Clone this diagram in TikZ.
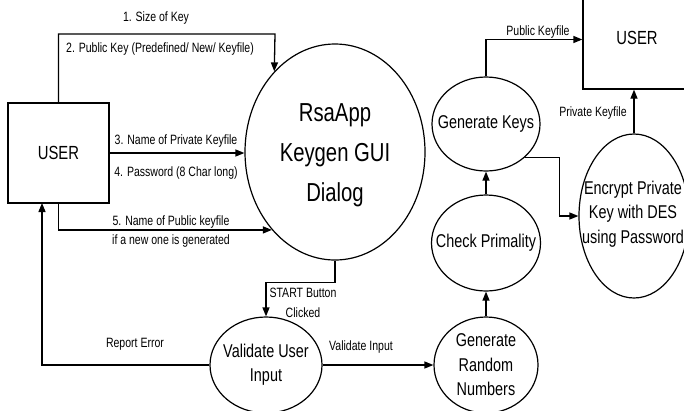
\documentclass[tikz,border=0pt]{standalone}
\usepackage{fontspec}
\setmainfont[FakeStretch=0.78]{Liberation Sans}
\usetikzlibrary{shapes.geometric,arrows.meta}

\tikzset{
  flow/.style={line width=1.3pt, -{Triangle[length=9pt,width=7pt]}},
  plain/.style={line width=1.3pt},
  proc/.style={ellipse, draw, line width=1.2pt, inner sep=0pt},
  ent/.style={rectangle, draw, line width=1.3pt, inner sep=0pt},
  big/.style={font=\fontsize{26}{40}\selectfont, align=center, inner sep=0pt},
  mid/.style={font=\fontsize{18.5}{24.5}\selectfont, align=center, inner sep=0pt},
  small/.style={font=\fontsize{13.5}{16}\selectfont, align=center, inner sep=0pt},
}

\begin{document}
\begin{tikzpicture}[x=1pt,y=-1pt]
\useasboundingbox (0,0) rectangle (684,410);
\clip (0,0) rectangle (684,410);

% external entities
\node[ent, minimum width=101pt, minimum height=100pt] (user1) at (58.5,153) {};
\node[mid, font=\fontsize{19}{24}\selectfont] (user1-t) at (58.5,153) {USER};
\node[ent, minimum width=117pt, minimum height=99pt] (user2) at (641.5,39.5) {};
\node[mid, font=\fontsize{19}{24}\selectfont] (user2-t) at (637,38) {USER};

% processes
\node[proc, minimum width=180pt, minimum height=216pt] (big) at (335,152) {};
\node[big] (big-t) at (335,155) {RsaApp\\Keygen GUI\\Dialog};

\node[proc, minimum width=112pt, minimum height=96pt] (val) at (266,365) {};
\node[mid] (val-t) at (266,364.5) {Validate User\\Input};

\node[proc, minimum width=104pt, minimum height=96pt] (grn) at (486,365) {};
\node[mid] (grn-t) at (486,365) {Generate\\Random\\Numbers};

\node[proc, minimum width=109pt, minimum height=96pt] (cp) at (486,243) {};
\node[mid] (cp-t) at (486,243) {Check Primality};

\node[proc, minimum width=108pt, minimum height=94pt] (gk) at (486,124) {};
\node[mid] (gk-t) at (486,124) {Generate Keys};

\node[proc, minimum width=110pt, minimum height=164pt] (enc) at (634,216) {};
\node[mid] (enc-t) at (633,214) {Encrypt Private\\Key with DES\\using Password};

% data flows
\coordinate (c1) at (275,34);
\draw[flow] (user1.north) |- (c1) -- (big.127);
\draw[flow] (user1.east) -- (user1.east -| big.west);
\draw[flow] (user1.south) |- (big.-129);
\draw[flow] (big.south) -- ++(0,22) -| (val.north);
\coordinate (rerr) at (42,203);
\draw[flow] (val.west) -| (rerr);
\draw[flow] (val.east) -- (grn.west);
\draw[flow] (grn.north) -- (cp.south);
\draw[flow] (cp.north) -- (gk.south);
\draw[flow] (gk.north) |- (user2.west);
\draw[flow] (gk.south east) -| ([xshift=-19pt]enc.west) -- (enc.west);
\draw[flow] (enc.north) -- (enc.north |- user2.south);

% flow labels
\node[small] (l1) at (156,18) {1. Size of Key};
\node[small] (l2) at (160,49) {2. Public Key (Predefined/ New/ Keyfile)};
\node[small] (l3) at (176,141) {3. Name of Private Keyfile};
\node[small] (l4) at (176,173) {4. Password (8 Char long)};
\node[small] (l5) at (171,222) {5. Name of Public keyfile};
\node[small] (l5b) at (171,241) {if a new one is generated};
\node[small] (ls1) at (303,293) {START Button};
\node[small] (ls2) at (303,313) {Clicked};
\node[small] (lre) at (135,344) {Report Error};
\node[small] (lvi) at (361,347) {Validate Input};
\node[small] (lpub) at (538,32) {Public Keyfile};
\node[small] (lpri) at (593,113) {Private Keyfile};
\end{tikzpicture}
\end{document}
